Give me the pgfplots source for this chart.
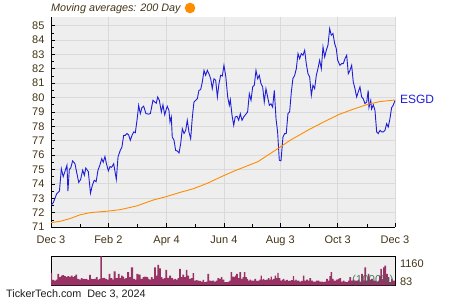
\documentclass[border=0pt]{standalone}
\usepackage{pgfplots}
\pgfplotsset{compat=1.18}
\usepackage{fontspec}
\setmainfont{Liberation Sans}
\definecolor{bggray}{RGB}{238,238,238}
\definecolor{gridgray}{RGB}{218,218,218}
\definecolor{tickbrown}{RGB}{66,52,22}
\definecolor{priceblue}{RGB}{30,30,215}
\definecolor{maorange}{RGB}{255,140,0}
\definecolor{volmaroon}{RGB}{153,51,102}
\definecolor{volgreen}{RGB}{60,100,80}
\begin{document}
\begin{tikzpicture}
\useasboundingbox (0pt,0pt) rectangle (450pt,300pt);
\begin{axis}[
  at={(51pt,73pt)}, anchor=south west, scale only axis,
  width=344pt, height=210pt,
  xmin=0, xmax=366, ymin=71, ymax=85.6,
  axis background/.style={fill=bggray},
  axis x line*=bottom, axis y line*=left,
  axis line style={black, line width=0.8pt},
  tick align=inside,
  major tick length=4pt, minor tick length=3pt,
  tick style={black, line width=0.6pt},
  xtick={0,61,123,184,244,305,366},
  xticklabels={Dec 3,Feb 2,Apr 4,Jun 4,Aug 3,Oct 3,Dec 3},
  minor xtick={31,92,153,214,275,336},
  ytick={71,...,85},
  minor ytick={71.5,72.5,...,84.5},
  grid=major,
  major grid style={gridgray, line width=0.8pt},
  ticklabel style={font=\fontsize{11}{13}\selectfont, text=tickbrown},
  /pgf/number format/assume math mode=true,
  xticklabel style={yshift=-5pt},
  yticklabel style={xshift=-3pt},
  clip mode=individual,
]
\addplot[priceblue, line width=0.9pt, mark=none] coordinates {
(0,72.5)(2.5,72.7)(6,73.3)(9,73.5)(11,75.05)(13,74.5)(15,74.9)(17,75.3)(18,73.5)(19.5,75.0)
(21,75.1)(23,75.6)(25.5,75.4)(27,74.9)(29.5,74.1)(31.5,74.3)(33.7,74.95)(35.5,74.6)(37,75.1)(39.7,74.85)
(42,73.35)(44,73.9)(46,74.25)(48,74.15)(50,74.95)(52,75.3)(54,75.75)(55.6,75.5)(57.4,75.9)(59,75.4)
(61,74.9)(62.8,75.2)(64.5,75.15)(66.7,75.4)(69.5,74.31)(71.3,75.87)(73.7,76.33)(75.5,76.57)(77.3,77.37)(79,77.37)
(80.9,77.5)(82.6,77.4)(84.4,77.03)(86.2,77.37)(88,77.61)(89.7,77.55)(91.5,78.42)(93.3,79.46)(95,78.88)(96.8,79.3)
(98.6,79.4)(101,78.88)(103.9,78.85)(105.7,78.88)(108.5,79.81)(110.3,79.7)(112,79.6)(113.5,80.04)(115.3,79.8)(117.4,79.0)
(119.1,79.5)(121,78.8)(122.7,79.2)(123.7,79.39)(125.5,79.1)(126.6,78.30)(128,78.65)(129,77.26)(130.9,77.03)(132.6,76.33)
(134.4,76.28)(136.2,76.15)(138,76.8)(139.7,77.84)(141.5,77.5)(143.3,77.72)(145,78.42)(146.8,77.6)(148.6,77.14)(150.4,78.65)
(152.1,79.69)(153.9,79.8)(155.7,79.92)(157.4,80.5)(159.2,80.55)(161,81.08)(162.8,81.89)(164.5,81.55)(166.3,81.89)(168,81.66)
(169.9,81.31)(171.6,80.62)(173.4,81.31)(175.2,81.2)(177,80.04)(178.7,80.95)(180.5,81.55)(182.3,81.5)(184,82.24)(186,81.45)
(188,80.04)(189.7,79.46)(190.8,79.85)(192.6,78.77)(194.4,78.07)(196,78.65)(197.9,78.7)(199.7,78.42)(201.4,78.88)(203.2,78.42)
(205,78.65)(207.4,78.85)(209.2,79.0)(211,80.27)(212.8,79.81)(214.6,80.74)(216.3,80.86)(218.1,81.89)(219.9,81.31)(221.6,81.55)
(223.4,80.97)(225.2,80.74)(226.9,79.69)(228.7,80.62)(230.5,80.04)(232.3,79.46)(234,79.57)(235.8,79.34)(237.6,80.5)(239.4,78.53)
(241.1,77.61)(242.9,75.64)(244.7,75.6)(246.8,77.26)(248.6,77.49)(250.3,77.5)(252.1,78.88)(253.9,79.0)(255.7,80.39)(257.4,81.32)
(259.3,81.55)(261,82.01)(262.8,83.05)(264.6,82.7)(266.3,83.05)(268.1,82.94)(269.9,83.29)(271.6,82.36)(273.4,81.66)(275.2,81.43)
(277,80.16)(278.7,80.86)(280.5,80.62)(282.3,81.55)(284,82.01)(285.8,82.59)(287.6,82.01)(289.4,83.52)(291.2,82.82)(292.9,83.29)
(294.7,83.64)(296.5,84.79)(298.2,84.33)(300,84.45)(301.8,83.75)(303.5,83.41)(305,82.6)(307.4,82.24)(309.3,82.36)(311,82.36)
(312.8,82.7)(314.6,82.94)(316.3,81.66)(318.1,81.89)(319.9,82.24)(321.6,81.08)(323.4,80.62)(325.2,80.04)(326.9,80.39)(328.7,80.74)
(330.5,80.04)(332.2,79.92)(334,79.58)(335.9,79.69)(337.5,80.5)(338.3,79.3)(340.2,79.8)(341.1,79.2)(342.9,79.5)(344.7,79.1)
(346.5,77.61)(348.2,77.49)(350,77.72)(351.8,77.61)(353.5,77.61)(355.3,77.72)(357.1,78.18)(358.8,77.95)(360.6,78.53)(362.4,79.3)
(364.1,79.46)(366,79.8)
};
\addplot[maorange, line width=0.9pt, mark=none] coordinates {
(0,71.30)(10,71.40)(20,71.58)(31,71.85)(42,72.00)(60,72.10)(73,72.20)(91,72.46)(109,72.88)(122,73.10)
(137,73.40)(151,73.65)(166,74.03)(183,74.55)(196,74.92)(220,75.54)(239,76.35)(255,77.05)(273,77.72)(290,78.30)
(307,78.84)(322,79.20)(337,79.53)(350,79.72)(366,79.83)
};
\node[anchor=west, text=priceblue, font=\fontsize{12}{14}\selectfont, xshift=1.5pt] at (axis cs:366,79.88) {ESGD};
\end{axis}
\begin{axis}[
  at={(51pt,14.5pt)}, anchor=south west, scale only axis,
  width=344pt, height=29.5pt,
  xmin=0, xmax=366, ymin=83, ymax=1160,
  axis background/.style={fill=bggray},
  xtick=\empty, ytick=\empty,
  axis line style={black, line width=0.9pt},
  clip mode=individual,
]
\addplot[const plot mark mid, fill=volmaroon, draw=none] coordinates {
(0,543)(2.5,289)(4.3,265)(6.0,301)(7.8,507)(9.6,386)(11.3,446)(13.1,458)(14.9,422)(16.7,386)
(18.4,422)(20.2,398)(22.0,446)(23.8,386)(25.5,422)(26.6,482)(29.1,325)(30.9,301)(32.6,349)(34.4,325)
(36.2,313)(37.9,325)(39.7,289)(41.5,470)(43.3,325)(45.0,313)(46.8,325)(48.6,386)(50.4,301)(52.1,325)
(53.2,1148)(54.9,349)(56.7,361)(58.5,325)(60.3,301)(62.1,507)(64.5,349)(66.0,301)(67.4,603)(69.9,349)
(72.3,507)(73.8,349)(75.2,446)(77.0,410)(78.4,325)(79.8,349)(82.3,567)(84.0,386)(86.2,749)(88.3,325)
(90.1,301)(91.8,507)(94.0,482)(96.5,325)(98.2,386)(100.4,410)(102.5,386)(104.0,325)(105.3,301)(107.1,386)
(108.9,325)(110.6,749)(112.4,446)(114.2,833)(115.9,712)(117.7,386)(119.5,325)(120.9,349)(122.3,652)(124.8,361)
(126.6,446)(129.1,349)(130.5,301)(131.9,325)(133.7,301)(135.5,349)(137.2,688)(139.0,386)(140.8,482)(142.6,386)
(144.3,652)(146.1,446)(147.9,325)(149.7,349)(151.4,531)(153.2,265)(155.0,277)(156.7,265)(158.5,252)(160.3,228)
(162.1,289)(163.8,204)(165.6,228)(167.4,507)(169.1,265)(170.9,252)(172.7,265)(174.5,228)(176.2,265)(178.0,349)
(179.8,325)(181.6,386)(183.3,301)(185.5,204)(187.3,204)(189.0,228)(190.4,265)(191.8,567)(193.6,410)(195.0,386)
(196.1,446)(197.9,507)(199.6,349)(201.4,567)(203.2,325)(204.6,386)(206.0,567)(207.8,386)(209.2,325)(210.3,265)
(212.1,301)(213.8,265)(215.6,265)(217.4,325)(219.1,252)(220.9,265)(222.3,301)(223.7,446)(225.1,301)(226.2,325)
(228.0,277)(229.8,301)(231.6,349)(233.0,301)(234.4,410)(235.8,301)(236.9,325)(238.7,446)(240.4,349)(241.5,543)
(242.9,349)(245.0,265)(246.5,301)(247.5,325)(249.3,265)(251.1,289)(252.8,252)(254.6,265)(256.4,277)(258.2,422)
(259.2,265)(260.6,301)(262.1,265)(263.5,265)(265.2,228)(267.0,252)(268.8,446)(270.6,265)(272.3,301)(274.1,265)
(275.9,349)(277.7,265)(279.4,228)(281.2,228)(283.0,265)(284.8,265)(286.5,228)(288.3,228)(290.1,204)(291.8,228)
(293.6,325)(295.4,265)(296.8,422)(298.2,567)(300.0,325)(301.4,265)(302.5,265)(304.3,301)(306.0,325)(307.8,349)
(309.6,228)(311.3,265)(313.1,228)(314.9,204)(316.7,265)(318.4,386)(320.2,265)(322.0,301)(323.8,265)(325.5,265)
(327.3,301)(329.1,228)(330.9,507)(332.6,265)(334.4,749)(336.2,265)(338.0,507)(339.7,301)(341.5,325)(343.3,265)
(345.0,265)(346.8,228)(348.6,265)(349.6,422)(351.4,688)(352.8,325)(353.9,749)(355.7,809)(357.4,507)(359.2,386)
(361.0,204)(362.8,325)(364.2,265)(366,265)
} \closedcycle;
\node[anchor=west, text=volgreen, font=\fontsize{11.5}{13}\selectfont, fill opacity=0.85, text opacity=0.85] at (rel axis cs:0.865,0.16) {(1000's)};
\node[anchor=west, text=tickbrown, font=\fontsize{11}{13}\selectfont, xshift=1.5pt] at (rel axis cs:1,0.75) {1160};
\node[anchor=west, text=tickbrown, font=\fontsize{11}{13}\selectfont, xshift=1.5pt] at (rel axis cs:1,0.13) {83};
\end{axis}
\node[anchor=base west, inner sep=0pt, text=tickbrown, font=\fontsize{10.8}{13}\selectfont\itshape] at (51pt,288pt) {Moving averages: 200 Day};
\fill[maorange] (190pt,292pt) circle (5.3pt);
\node[anchor=base west, inner sep=0pt, text={rgb,255:red,30;green,30;blue,30}, font=\fontsize{10.8}{13}\selectfont] at (6pt,2.5pt) {TickerTech.com\ \ Dec 3, 2024};
\end{tikzpicture}
\end{document}
